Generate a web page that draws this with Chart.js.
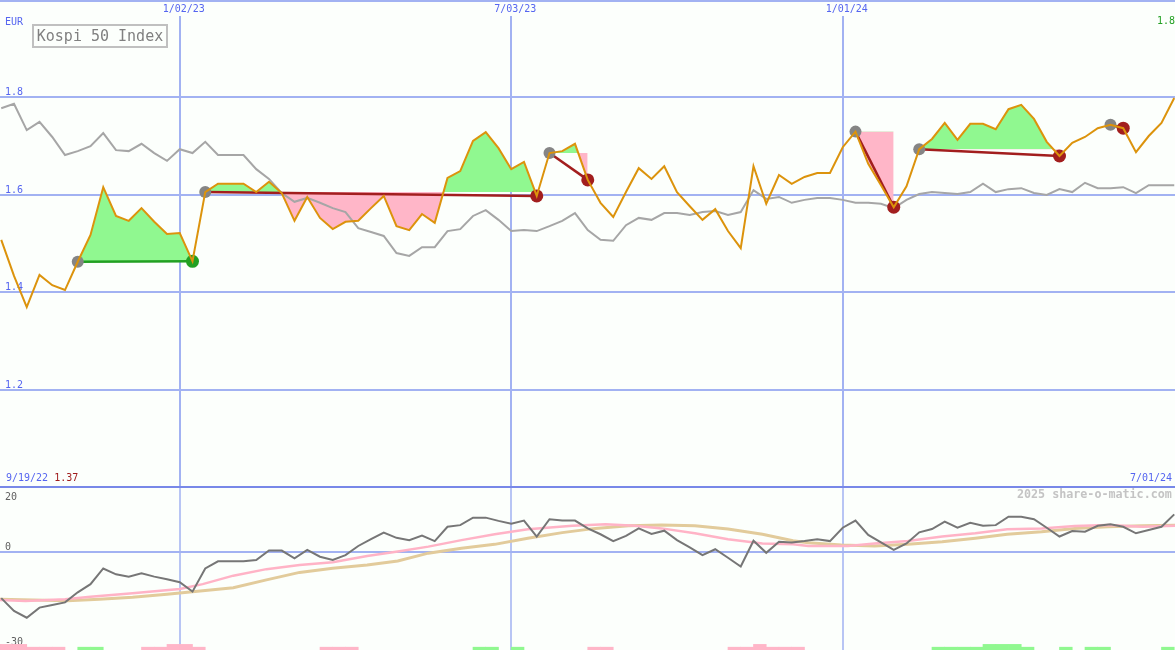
<!DOCTYPE html>
<html lang="en">
<head>
  <meta charset="UTF-8" />
  <title>Kospi 50 Index</title>
  <script src="https://cdn.jsdelivr.net/npm/chart.js"></script>
  <style>
    body {
      margin: 0;
      background: #fcfffc;
      font-family: "DejaVu Sans Mono", monospace;
    }
    #wrap {
      position: relative;
      width: 1175px;
      height: 650px;
      overflow: hidden;
    }
    canvas {
      position: absolute;
      left: 0;
    }
    #priceChart { top: 0; }
    #oscChart { top: 486px; }
    .lbl {
      position: absolute;
      font-size: 10px;
      line-height: 10px;
      white-space: nowrap;
    }
    .blue { color: #5565f0; }
    .green { color: #22a022; }
    .red { color: #a01c1c; }
    #title {
      position: absolute;
      left: 32px;
      top: 24px;
      width: 132px;
      height: 20px;
      border: 2px solid #c0c0c0;
      color: #808080;
      font-size: 15px;
      line-height: 20px;
      text-align: center;
    }
    #credit {
      position: absolute;
      left: 1017px;
      top: 488px;
      font-size: 11.7px;
      line-height: 12px;
      font-weight: bold;
      color: #c4c4c4;
      white-space: nowrap;
    }
  </style>
</head>
<body>
  <div id="wrap">
    <canvas id="priceChart" width="1175" height="487"></canvas>
    <canvas id="oscChart" width="1175" height="164"></canvas>
    <div class="lbl blue" style="left:5px;top:17px">EUR</div>
    <div id="title">Kospi 50 Index</div>
    <div class="lbl green" style="left:1157px;top:16px">1.8</div>
    <div class="lbl blue" style="left:6px;top:473px">9/19/22 <span class="red">1.37</span></div>
    <div class="lbl blue" style="left:1130px;top:473px">7/01/24</div>
    <div id="credit">2025 share-o-matic.com</div>
  </div>

  <script>
    // weekly closes, index 1 = first visible week
    const price = [
      1.507, 1.433, 1.369, 1.435, 1.414, 1.404, 1.462, 1.517, 1.615, 1.556,
      1.546, 1.572, 1.544, 1.519, 1.521, 1.463, 1.605, 1.622, 1.622, 1.622,
      1.605, 1.626, 1.603, 1.546, 1.595, 1.552, 1.529, 1.544, 1.546, 1.572,
      1.597, 1.535, 1.527, 1.560, 1.542, 1.634, 1.648, 1.710, 1.728, 1.695,
      1.652, 1.667, 1.597, 1.685, 1.689, 1.704, 1.630, 1.583, 1.554, 1.605,
      1.654, 1.632, 1.658, 1.605, 1.576, 1.548, 1.570, 1.525, 1.490, 1.658,
      1.581, 1.640, 1.622, 1.636, 1.644, 1.644, 1.697, 1.729, 1.663, 1.619,
      1.574, 1.617, 1.693, 1.714, 1.747, 1.712, 1.745, 1.745, 1.734, 1.775,
      1.784, 1.755, 1.708, 1.679, 1.706, 1.718, 1.736, 1.743, 1.736, 1.687,
      1.720, 1.747, 1.798
    ];
    // grey comparison line
    const relative = [
      1.777, 1.786, 1.732, 1.749, 1.718, 1.681, 1.689, 1.699, 1.726, 1.691,
      1.689, 1.704, 1.685, 1.669, 1.693, 1.685, 1.708, 1.681, 1.681, 1.681,
      1.652, 1.632, 1.603, 1.585, 1.593, 1.583, 1.572, 1.564, 1.531, 1.523,
      1.515, 1.480, 1.474, 1.492, 1.492, 1.525, 1.529, 1.556, 1.568, 1.548,
      1.525, 1.527, 1.525, 1.535, 1.546, 1.562, 1.527, 1.507, 1.505, 1.537,
      1.552, 1.548, 1.562, 1.562, 1.558, 1.564, 1.566, 1.558, 1.564, 1.609,
      1.591, 1.595, 1.583, 1.589, 1.593, 1.593, 1.589, 1.583, 1.583, 1.581,
      1.572, 1.589, 1.601, 1.605, 1.603, 1.601, 1.605, 1.622, 1.605, 1.611,
      1.613, 1.603, 1.599, 1.611, 1.605, 1.624, 1.613, 1.613, 1.615, 1.603,
      1.619, 1.619, 1.619
    ];
    // lower panel oscillator
    const osc = [
      -14.1, -18.0, -20.1, -17.0, -16.2, -15.4, -12.3, -9.8, -5.0, -6.8,
      -7.5, -6.5, -7.5, -8.3, -9.2, -12.1, -5.0, -2.8, -2.8, -2.8,
      -2.4, 0.5, 0.5, -1.9, 0.7, -1.4, -2.4, -0.9, 1.9, 4.0,
      6.0, 4.4, 3.7, 5.1, 3.4, 7.8, 8.3, 10.6, 10.6, 9.6,
      8.7, 9.7, 4.8, 10.1, 9.7, 9.7, 7.3, 5.5, 3.4, 5.0,
      7.3, 5.6, 6.6, 3.7, 1.5, -0.9, 0.9, -1.7, -4.4, 3.5,
      -0.2, 3.2, 3.0, 3.4, 4.0, 3.4, 7.5, 9.7, 5.3, 3.0,
      0.7, 2.7, 6.1, 7.1, 9.4, 7.5, 9.0, 8.1, 8.3, 10.9,
      10.9, 10.1, 7.5, 4.8, 6.5, 6.3, 8.1, 8.6, 7.8, 5.8,
      6.8, 7.8, 11.6
    ];
    // moving averages of the oscillator (read at these week positions)
    const maFastIdx = [0.9, 2.9, 6.0, 8.0, 11.3, 15.0, 16.8, 19.2, 21.8, 24.4, 27.0, 29.7, 32.1, 34.5, 37.1, 39.7, 42.3, 45.8, 48.4, 50.7, 52.8, 55.4, 58.0, 60.7, 63.1, 64.3, 67.4, 69.5, 72.1, 74.8, 77.4, 79.9, 82.6, 85.2, 87.8, 90.5, 93.1];
    const maFastVal = [-14.7, -15.0, -14.4, -13.7, -12.6, -11.3, -9.8, -7.2, -5.2, -3.9, -3.1, -1.2, 0.2, 1.7, 3.7, 5.5, 7.0, 8.1, 8.6, 8.1, 7.3, 5.8, 4.0, 2.7, 2.4, 1.9, 1.9, 2.7, 3.4, 4.8, 5.8, 7.0, 7.3, 8.0, 8.3, 7.8, 8.1];
    const maSlowIdx = [0.9, 3.5, 6.2, 8.7, 11.3, 14.0, 16.6, 19.2, 21.8, 24.4, 27.0, 29.7, 32.1, 34.5, 37.1, 39.7, 42.3, 45.0, 47.6, 50.2, 52.8, 55.4, 58.0, 60.7, 63.1, 64.3, 66.9, 69.5, 72.1, 74.8, 77.4, 79.9, 82.6, 85.2, 87.8, 90.5, 93.1];
    const maSlowVal = [-14.4, -14.7, -14.9, -14.4, -13.8, -12.9, -11.9, -10.9, -8.5, -6.2, -4.9, -3.9, -2.7, -0.3, 1.2, 2.4, 4.3, 6.0, 7.3, 8.1, 8.3, 8.1, 7.1, 5.5, 3.5, 2.9, 2.2, 1.9, 2.4, 3.2, 4.3, 5.5, 6.3, 7.3, 7.8, 8.1, 8.3];
    // signal strip at the bottom, one entry per week (starting week 0): +green / -pink
    const signalBars = [
      -2, -2, -2, -1, -1, -1, 0, 1, 1, 0,
      0, 0, -1, -1, -2, -2, -1, 0, 0, 0,
      0, 0, 0, 0, 0, 0, -1, -1, -1, 0,
      0, 0, 0, 0, 0, 0, 0, 0, 1, 1,
      0, 1, 0, 0, 0, 0, 0, -1, -1, 0,
      0, 0, 0, 0, 0, 0, 0, 0, -1, -1,
      -2, -1, -1, -1, 0, 0, 0, 0, 0, 0,
      0, 0, 0, 0, 1, 1, 1, 1, 2, 2,
      2, 1, 0, 0, 1, 0, 1, 1, 0, 0,
      0, 0, 1
    ];
    // trades: entry / exit week
    const tradeIn = [7, 17, 44, 68, 73, 88];
    const tradeOut = [16, 43, 47, 71, 84, 89];

    const priceTicks = [1.2, 1.4, 1.6, 1.8];
    const oscTicks = [20, 0, -30];
    const dateIdx = [15, 41, 67];
    const dateLabels = ["1/02/23", "7/03/23", "1/01/24"];

    const X_MIN = 0.902, X_MAX = 93.06;
    const GRID = "#a2b2f2";
    const SEP = "#7888e8";
    const FILL_UP = "#90f890";
    const FILL_DOWN = "#ffb6c8";
    const LOSS = "#a21e1e";
    const WIN = "#22a022";
    const BAR_UNIT = 0.86;

    const pts = (arr) => arr.map((v, k) => ({ x: k + 1, y: v }));
    const pricePts = pts(price);

    const topGrid = {
      id: "topGrid",
      beforeDatasetsDraw(chart) {
        const { ctx, chartArea: a, scales: { x, y } } = chart;
        ctx.save();
        ctx.fillStyle = GRID;
        ctx.fillRect(a.left, 0, a.right - a.left, 2);
        ctx.fillStyle = SEP;
        ctx.fillRect(a.left, a.bottom - 1, a.right - a.left, 1);
        ctx.strokeStyle = GRID;
        ctx.lineWidth = 2;
        priceTicks.forEach(v => {
          const py = Math.round(y.getPixelForValue(v));
          ctx.beginPath(); ctx.moveTo(a.left, py); ctx.lineTo(a.right, py); ctx.stroke();
        });
        dateIdx.forEach(d => {
          const px = Math.round(x.getPixelForValue(d));
          ctx.beginPath(); ctx.moveTo(px, 16); ctx.lineTo(px, a.bottom); ctx.stroke();
        });
        ctx.font = "10px 'DejaVu Sans Mono'";
        ctx.fillStyle = "#5565f0";
        ctx.textBaseline = "alphabetic";
        ctx.textAlign = "left";
        priceTicks.forEach(v => {
          ctx.fillText(v.toFixed(1), 5, Math.round(y.getPixelForValue(v)) - 2);
        });
        ctx.textAlign = "center";
        dateIdx.forEach((d, k) => {
          ctx.fillText(dateLabels[k], x.getPixelForValue(d) + 4, 12);
        });
        ctx.restore();
      }
    };

    const oscGrid = {
      id: "oscGrid",
      beforeDatasetsDraw(chart) {
        const { ctx, chartArea: a, scales: { x, y } } = chart;
        ctx.save();
        ctx.strokeStyle = GRID;
        ctx.lineWidth = 1.5;
        dateIdx.forEach(d => {
          const px = Math.round(x.getPixelForValue(d));
          ctx.beginPath(); ctx.moveTo(px, 0); ctx.lineTo(px, a.bottom); ctx.stroke();
        });
        ctx.lineWidth = 2;
        const zy = Math.round(y.getPixelForValue(0));
        ctx.beginPath(); ctx.moveTo(a.left, zy); ctx.lineTo(a.right, zy); ctx.stroke();
        ctx.fillStyle = SEP;
        ctx.fillRect(a.left, 0, a.right - a.left, 2);
        ctx.font = "10px 'DejaVu Sans Mono'";
        ctx.fillStyle = "#606060";
        ctx.textAlign = "left";
        oscTicks.forEach(v => {
          const py = y.getPixelForValue(v) - 2;
          ctx.fillText(String(v), 5, Math.min(Math.max(py, 14), a.bottom - 5));
        });
        ctx.restore();
      }
    };

    const noChrome = {
      responsive: false,
      animation: false,
      devicePixelRatio: 1,
      layout: { padding: 0, autoPadding: false },
      plugins: { legend: { display: false }, tooltip: { enabled: false } },
      elements: { line: { tension: 0 }, point: { radius: 0 } }
    };

    // price panel
    const fills = tradeIn.map((a, t) => ({
      data: pricePts.slice(a - 1, tradeOut[t]),
      borderColor: "transparent",
      borderWidth: 0,
      pointRadius: 0,
      fill: { target: { value: price[a - 1] }, above: FILL_UP, below: FILL_DOWN },
      order: 6
    }));

    const tradeLines = tradeIn.map((a, t) => {
      const b = tradeOut[t];
      return {
        data: [{ x: a, y: price[a - 1] }, { x: b, y: price[b - 1] }],
        borderColor: price[b - 1] >= price[a - 1] ? WIN : LOSS,
        borderWidth: 2.5,
        pointRadius: 0,
        order: 4
      };
    });

    new Chart(document.getElementById("priceChart"), {
      type: "line",
      data: {
        datasets: [
          ...fills,
          {
            data: pts(relative),
            borderColor: "#a6a6a6",
            borderWidth: 2,
            pointRadius: 0,
            order: 5
          },
          ...tradeLines,
          {
            data: tradeIn.map(a => pricePts[a - 1]),
            showLine: false,
            pointRadius: 6,
            pointBorderWidth: 0,
            pointBackgroundColor: "#858585",
            order: 3
          },
          {
            data: tradeOut.map(b => pricePts[b - 1]),
            showLine: false,
            pointRadius: 6.5,
            pointBorderWidth: 0,
            pointBackgroundColor: tradeOut.map((b, t) => price[b - 1] >= price[tradeIn[t] - 1] ? WIN : LOSS),
            order: 3
          },
          {
            data: pricePts,
            borderColor: "#dc930c",
            borderWidth: 2,
            pointRadius: 0,
            order: 1
          }
        ]
      },
      options: {
        ...noChrome,
        scales: {
          x: { type: "linear", min: X_MIN, max: X_MAX, display: false },
          y: { type: "linear", min: 1.0, max: 1.999, display: false }
        }
      },
      plugins: [topGrid]
    });

    // oscillator panel
    const barPts = [];
    signalBars.forEach((lvl, k) => {
      if (lvl !== 0) barPts.push({ x: k + 0.5, y: [-30, -30 + Math.abs(lvl) * BAR_UNIT], lvl });
    });

    new Chart(document.getElementById("oscChart"), {
      type: "line",
      data: {
        datasets: [
          {
            type: "bar",
            data: barPts,
            backgroundColor: barPts.map(p => p.lvl > 0 ? FILL_UP : FILL_DOWN),
            borderWidth: 0,
            barPercentage: 1,
            categoryPercentage: 1,
            order: 5
          },
          {
            data: maSlowIdx.map((d, k) => ({ x: d, y: maSlowVal[k] })),
            borderColor: "#e2cb9b",
            borderWidth: 3,
            pointRadius: 0,
            order: 4
          },
          {
            data: maFastIdx.map((d, k) => ({ x: d, y: maFastVal[k] })),
            borderColor: "#ffb3c6",
            borderWidth: 2.5,
            pointRadius: 0,
            order: 3
          },
          {
            data: pts(osc),
            borderColor: "#767676",
            borderWidth: 2,
            pointRadius: 0,
            order: 1
          }
        ]
      },
      options: {
        ...noChrome,
        scales: {
          x: { type: "linear", min: X_MIN, max: X_MAX, display: false, offset: false },
          y: { type: "linear", min: -30, max: 20.3, display: false }
        }
      },
      plugins: [oscGrid]
    });
  </script>
</body>
</html>
